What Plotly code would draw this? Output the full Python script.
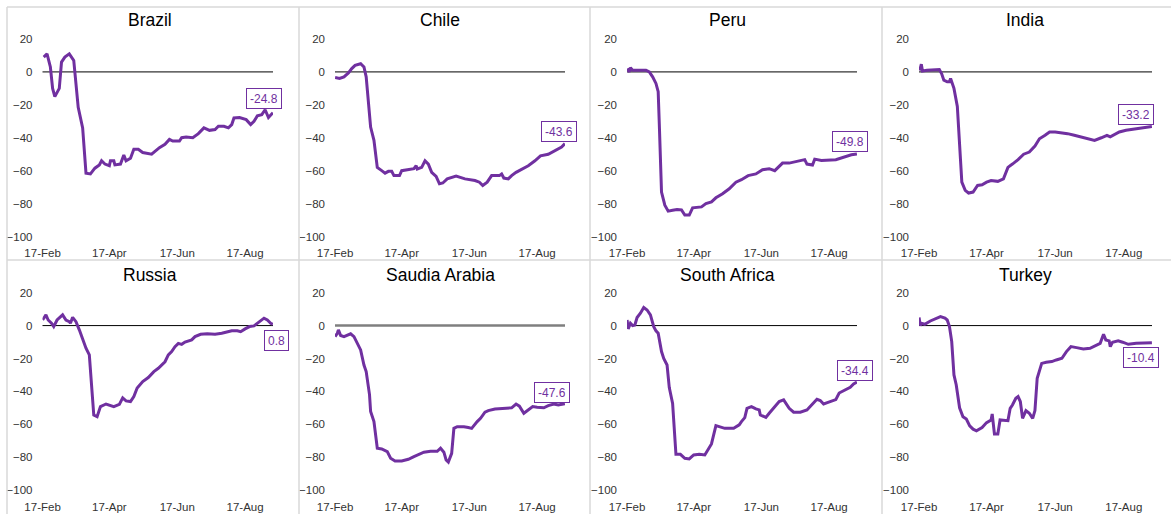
import pandas as pd
import plotly.graph_objects as go

# ---------------- data (days since 17-Feb-2020, index values) ----------------
countries = ["Brazil", "Chile", "Peru", "India", "Russia", "Saudia Arabia", "South Africa", "Turkey"]

brazil_days = [1, 4, 7, 9, 11, 15, 17, 20, 24, 28, 32, 36, 39, 43, 47, 51, 53, 56, 60, 61, 64, 65, 70, 73, 75, 79, 82, 86, 90, 98, 105, 110, 114, 117, 123, 125, 129, 135, 140, 145, 150, 155, 158, 163, 167, 170, 172, 177, 183, 187, 190, 193, 197, 200, 203, 207]
brazil_vals = [9, 11, 3, -10, -15, -10, 6, 9, 11, 7, -21.5, -34, -61.5, -62, -58.5, -56.5, -54, -56, -57, -54, -54, -56.5, -56, -50.5, -54, -52.5, -47, -47, -49, -50, -46, -44, -41, -42, -42, -40, -39.6, -40, -37.5, -34, -35.5, -35, -33, -33, -34, -32, -28, -27.7, -29, -32, -30, -26.7, -26, -23, -27.7, -24.8]

chile_days = [0, 4, 8, 12, 15, 18, 23, 26, 28, 30, 32, 35, 38, 42, 45, 48, 51, 53, 58, 60, 66, 71, 73, 74, 78, 81, 84, 87, 91, 94, 97, 101, 109, 117, 126, 130, 133, 137, 141, 148, 150, 152, 156, 159, 163, 168, 174, 180, 185, 192, 197, 201, 204, 207]
chile_vals = [-3.4, -4, -3, -0.6, 2, 4, 5, 3, -3, -17, -33.5, -41.6, -58, -60, -61.5, -60.4, -60.4, -63, -63, -60, -59.4, -58.8, -57, -59, -58, -54, -56, -61, -63.5, -68, -67.5, -65, -63.3, -65, -66, -67, -69, -67, -63, -63, -62, -64.5, -65, -63, -61, -59, -57, -54, -51, -50, -48, -46.7, -45.6, -43.6]

peru_days = [0, 2, 3, 5, 13, 17, 20, 23, 26, 28, 29, 31, 34, 37, 41, 45, 49, 52, 56, 59, 67, 71, 76, 80, 86, 92, 98, 103, 109, 116, 122, 128, 133, 140, 146, 154, 160, 162, 167, 169, 175, 188, 196, 202, 207]
peru_vals = [2, 0, 2.6, 1, 1, 1, 0, -3, -7, -12, -31.4, -73, -81, -84.6, -84, -83.6, -83.8, -87, -87, -82.6, -82, -80, -79, -76.5, -74, -71, -67, -65.5, -63, -62, -59.4, -58.8, -60, -55.4, -55.4, -54.4, -53.3, -56, -56.6, -53, -53.8, -53.3, -51.7, -50.3, -49.8]

india_days = [0, 1, 2, 3, 7, 13, 18, 20, 22, 25, 27, 28, 31, 34, 36, 38, 41, 44, 48, 52, 56, 60, 64, 70, 75, 79, 83, 88, 93, 98, 103, 107, 112, 116, 121, 127, 132, 138, 144, 152, 156, 162, 167, 170, 174, 178, 184, 190, 195, 199, 207]
india_vals = [1, 2, 4.7, 0.6, 1, 1, 1.4, -1, -5, -6, -6, -4, -10, -21, -43.6, -67, -72, -73.6, -73, -69, -68.6, -67, -66, -66.5, -65, -58, -56, -53.3, -50, -48.7, -45, -40.6, -38.5, -36.5, -36.5, -37, -37.5, -38.5, -39.5, -41, -41.6, -40, -38.5, -39.5, -38, -36.5, -35.5, -35, -34.5, -33.9, -33.2]

russia_days = [0, 3, 5, 8, 10, 13, 18, 21, 24, 25, 27, 30, 33, 36, 39, 42, 44, 46, 49, 52, 57, 60, 64, 69, 72, 75, 79, 82, 85, 90, 95, 100, 104, 110, 113, 116, 119, 122, 125, 128, 134, 137, 142, 148, 155, 161, 167, 170, 175, 178, 182, 186, 190, 193, 196, 199, 202, 205, 207]
russia_vals = [3.4, 6.5, 3.4, 1.4, -0.6, 3.4, 6.5, 3.4, 2.4, 1.4, 5, 2.4, -2.6, -8.7, -13.8, -17.8, -35, -54.4, -55.4, -49.3, -47.7, -48.3, -49.3, -47.9, -44, -45.8, -46.2, -43.2, -38, -34, -31.6, -28, -26, -22, -17.8, -15.8, -12.8, -10.8, -11.4, -10, -8.7, -6.7, -5.3, -5, -5.3, -4.7, -4, -3.2, -3.2, -3.7, -2, -0.6, -0.2, 1.4, 3.4, 4.5, 3.4, 1.4, 0.8]

saudi_days = [0, 2, 3, 5, 8, 11, 14, 17, 20, 23, 26, 28, 31, 32, 35, 38, 42, 47, 50, 54, 60, 66, 71, 74, 80, 86, 92, 95, 98, 100, 102, 105, 107, 110, 116, 120, 123, 128, 131, 135, 138, 144, 152, 159, 163, 166, 170, 174, 178, 182, 188, 192, 197, 201, 207]
saudi_vals = [-6.7, -4.7, -2.6, -6, -6.7, -5.7, -5, -6.7, -10.8, -14.8, -24, -28, -42, -52.3, -58.4, -74.6, -75, -76.7, -80.7, -82.4, -82.4, -81.3, -79.7, -78.7, -77, -76.5, -76.5, -74.6, -77, -81.7, -83, -77.7, -62.5, -61.5, -61.5, -62, -62.5, -58.4, -56.4, -52.7, -51.7, -50.7, -50.3, -50, -47.7, -49, -53.3, -51.3, -49.3, -49.7, -50, -48.7, -47.7, -48.3, -47.6]

safrica_days = [0, 1, 3, 5, 7, 9, 12, 15, 18, 21, 24, 26, 28, 31, 33, 36, 38, 41, 44, 48, 52, 56, 60, 65, 70, 73, 76, 80, 83, 88, 96, 101, 103, 106, 108, 112, 116, 119, 120, 125, 128, 132, 137, 141, 144, 146, 150, 156, 162, 167, 171, 174, 177, 181, 188, 191, 196, 201, 204, 207]
safrica_vals = [3.4, -2, 1.4, 0, 0.4, 4.9, 7.5, 11, 9.5, 6.5, -0.6, -3.2, -4.7, -15.8, -20, -24, -37.7, -47.3, -78.3, -78.3, -80.7, -81.1, -78.7, -78.3, -78.7, -75.7, -72, -60.8, -61.5, -62.5, -62.5, -60.4, -58.4, -56, -50.3, -49.3, -50.7, -51.3, -54.4, -55.8, -53.3, -50.3, -46.2, -45.2, -48.3, -50.3, -52.7, -52.7, -51.3, -48, -44.8, -45.6, -47.7, -46.7, -45, -41, -39, -37.5, -35.5, -34.4]

turkey_days = [0, 1, 2, 5, 10, 14, 19, 23, 25, 27, 29, 31, 33, 36, 39, 42, 45, 48, 51, 56, 60, 64, 65, 67, 70, 72, 77, 79, 81, 83, 86, 88, 90, 92, 95, 98, 101, 103, 105, 109, 113, 118, 122, 127, 131, 135, 140, 146, 152, 158, 161, 164, 166, 169, 170, 172, 177, 181, 186, 193, 200, 207]
turkey_vals = [4.9, 0, 1.4, 0.8, 2.8, 4, 5.5, 4.5, 3.4, -0.6, -9.7, -30, -36, -50, -55.4, -56.8, -61, -63, -64, -62, -59, -57.4, -53.8, -66, -66, -57.4, -57.8, -57.8, -50.3, -48.3, -44.2, -43.2, -46.2, -56.4, -51.7, -53.3, -56.4, -51.7, -32, -23, -22.3, -21.9, -20.9, -19.9, -15.8, -12.8, -13.4, -14.2, -13.8, -11.8, -10.8, -5.3, -8.7, -9.3, -12.8, -10.1, -9.3, -10.1, -11.4, -10.8, -10.8, -10.4]

series_days = [brazil_days, chile_days, peru_days, india_days, russia_days, saudi_days, safrica_days, turkey_days]
series_vals = [brazil_vals, chile_vals, peru_vals, india_vals, russia_vals, saudi_vals, safrica_vals, turkey_vals]

start_date = "2020-02-17"
tick_dates = ["2020-02-17", "2020-04-17", "2020-06-17", "2020-08-17"]
tick_labels = ["17-Feb", "17-Apr", "17-Jun", "17-Aug"]
y_ticks = [20, 0, -20, -40, -60, -80, -100]

# ---------------- styling / layout ----------------
W, H = 1171, 514
PURPLE = "#7030A0"
FONT = "Liberation Sans, Arial, sans-serif"
col_px = [(42.5, 273), (335, 565), (627, 857), (919, 1152)]
row_px = [(39, 236.5), (292.7, 490)]
title_x_px = [150, 440, 727, 1025]
title_y_px = [20, 275]
# label offsets (px) relative to last point
label_shift = [(-9, 14), (-6, 12), (-7, 12), (-16, 12), (4, -16), (-13, 11), (-2, 12), (-11, -15)]

fig = go.Figure()
base = pd.Timestamp(start_date)
x_range = [base - pd.Timedelta(hours=2), base + pd.Timedelta(days=207, hours=2)]

for i, name in enumerate(countries):
    r, c = divmod(i, 4)
    n = i + 1
    xa = "x" if n == 1 else f"x{n}"
    ya = "y" if n == 1 else f"y{n}"
    xs = base + pd.to_timedelta(series_days[i], unit="D")
    vals = series_vals[i]

    fig.add_trace(go.Scatter(x=xs, y=vals, mode="lines",
                             line=dict(color=PURPLE, width=3),
                             xaxis=xa, yaxis=ya, showlegend=False, hoverinfo="skip"))

    zl_color = "#7f7f7f" if name == "Saudia Arabia" else "black"
    zl_width = 2.5 if name == "Saudia Arabia" else 1
    fig.add_shape(type="line", xref=f"{xa} domain", yref=ya, x0=0, x1=1, y0=0, y1=0,
                  line=dict(color=zl_color, width=zl_width), layer="below")

    x0, x1 = col_px[c]
    yt, yb = row_px[r]
    fig.update_layout({
        f"xaxis{'' if n == 1 else n}": dict(
            domain=[x0 / W, x1 / W], anchor=ya, type="date", range=x_range,
            tickvals=tick_dates, ticktext=tick_labels, showgrid=False, zeroline=False,
            showline=False, ticks="", automargin=False,
            tickfont=dict(size=11.5, color="#333333", family=FONT),
            ticklabelstandoff=8, fixedrange=True),
        f"yaxis{'' if n == 1 else n}": dict(
            domain=[1 - yb / H, 1 - yt / H], anchor=xa, range=[-100, 20],
            tickvals=y_ticks, showgrid=False, zeroline=False, showline=False, ticks="",
            automargin=False,
            tickfont=dict(size=11.5, color="#333333", family=FONT),
            ticklabelstandoff=9, fixedrange=True),
    })

    # title
    fig.add_annotation(x=title_x_px[c] / W, y=1 - title_y_px[r] / H, xref="paper", yref="paper",
                       text=name, showarrow=False, xanchor="center", yanchor="middle",
                       font=dict(size=17.5, color="black", family=FONT))

    # last value label
    dx, dy = label_shift[i]
    fig.add_annotation(x=xs[-1], y=vals[-1], xref=xa, yref=ya, text=f"{vals[-1]:.1f}",
                       showarrow=False, xanchor="center", yanchor="middle",
                       xshift=dx, yshift=dy, bgcolor="white", bordercolor=PURPLE,
                       borderwidth=1, borderpad=3, height=13,
                       font=dict(size=12, color=PURPLE, family=FONT))

# chart box borders
GRID = "#d9d9d9"
for xv in [7, 299, 590, 882]:
    fig.add_shape(type="line", xref="paper", yref="paper", x0=xv / W, x1=xv / W,
                  y0=0, y1=1 - 7 / H, line=dict(color=GRID, width=1.5))
for yv in [7, 260]:
    fig.add_shape(type="line", xref="paper", yref="paper", x0=7 / W, x1=1,
                  y0=1 - yv / H, y1=1 - yv / H, line=dict(color=GRID, width=1.5))

fig.update_layout(template="none", width=W, height=H, margin=dict(l=0, r=0, t=0, b=0, pad=0),
                  paper_bgcolor="white", plot_bgcolor="white", showlegend=False,
                  font=dict(family=FONT))

fig.write_html("out.html", config={"displayModeBar": False},
               post_script="document.body.style.margin='0';document.body.style.overflow='hidden';")
